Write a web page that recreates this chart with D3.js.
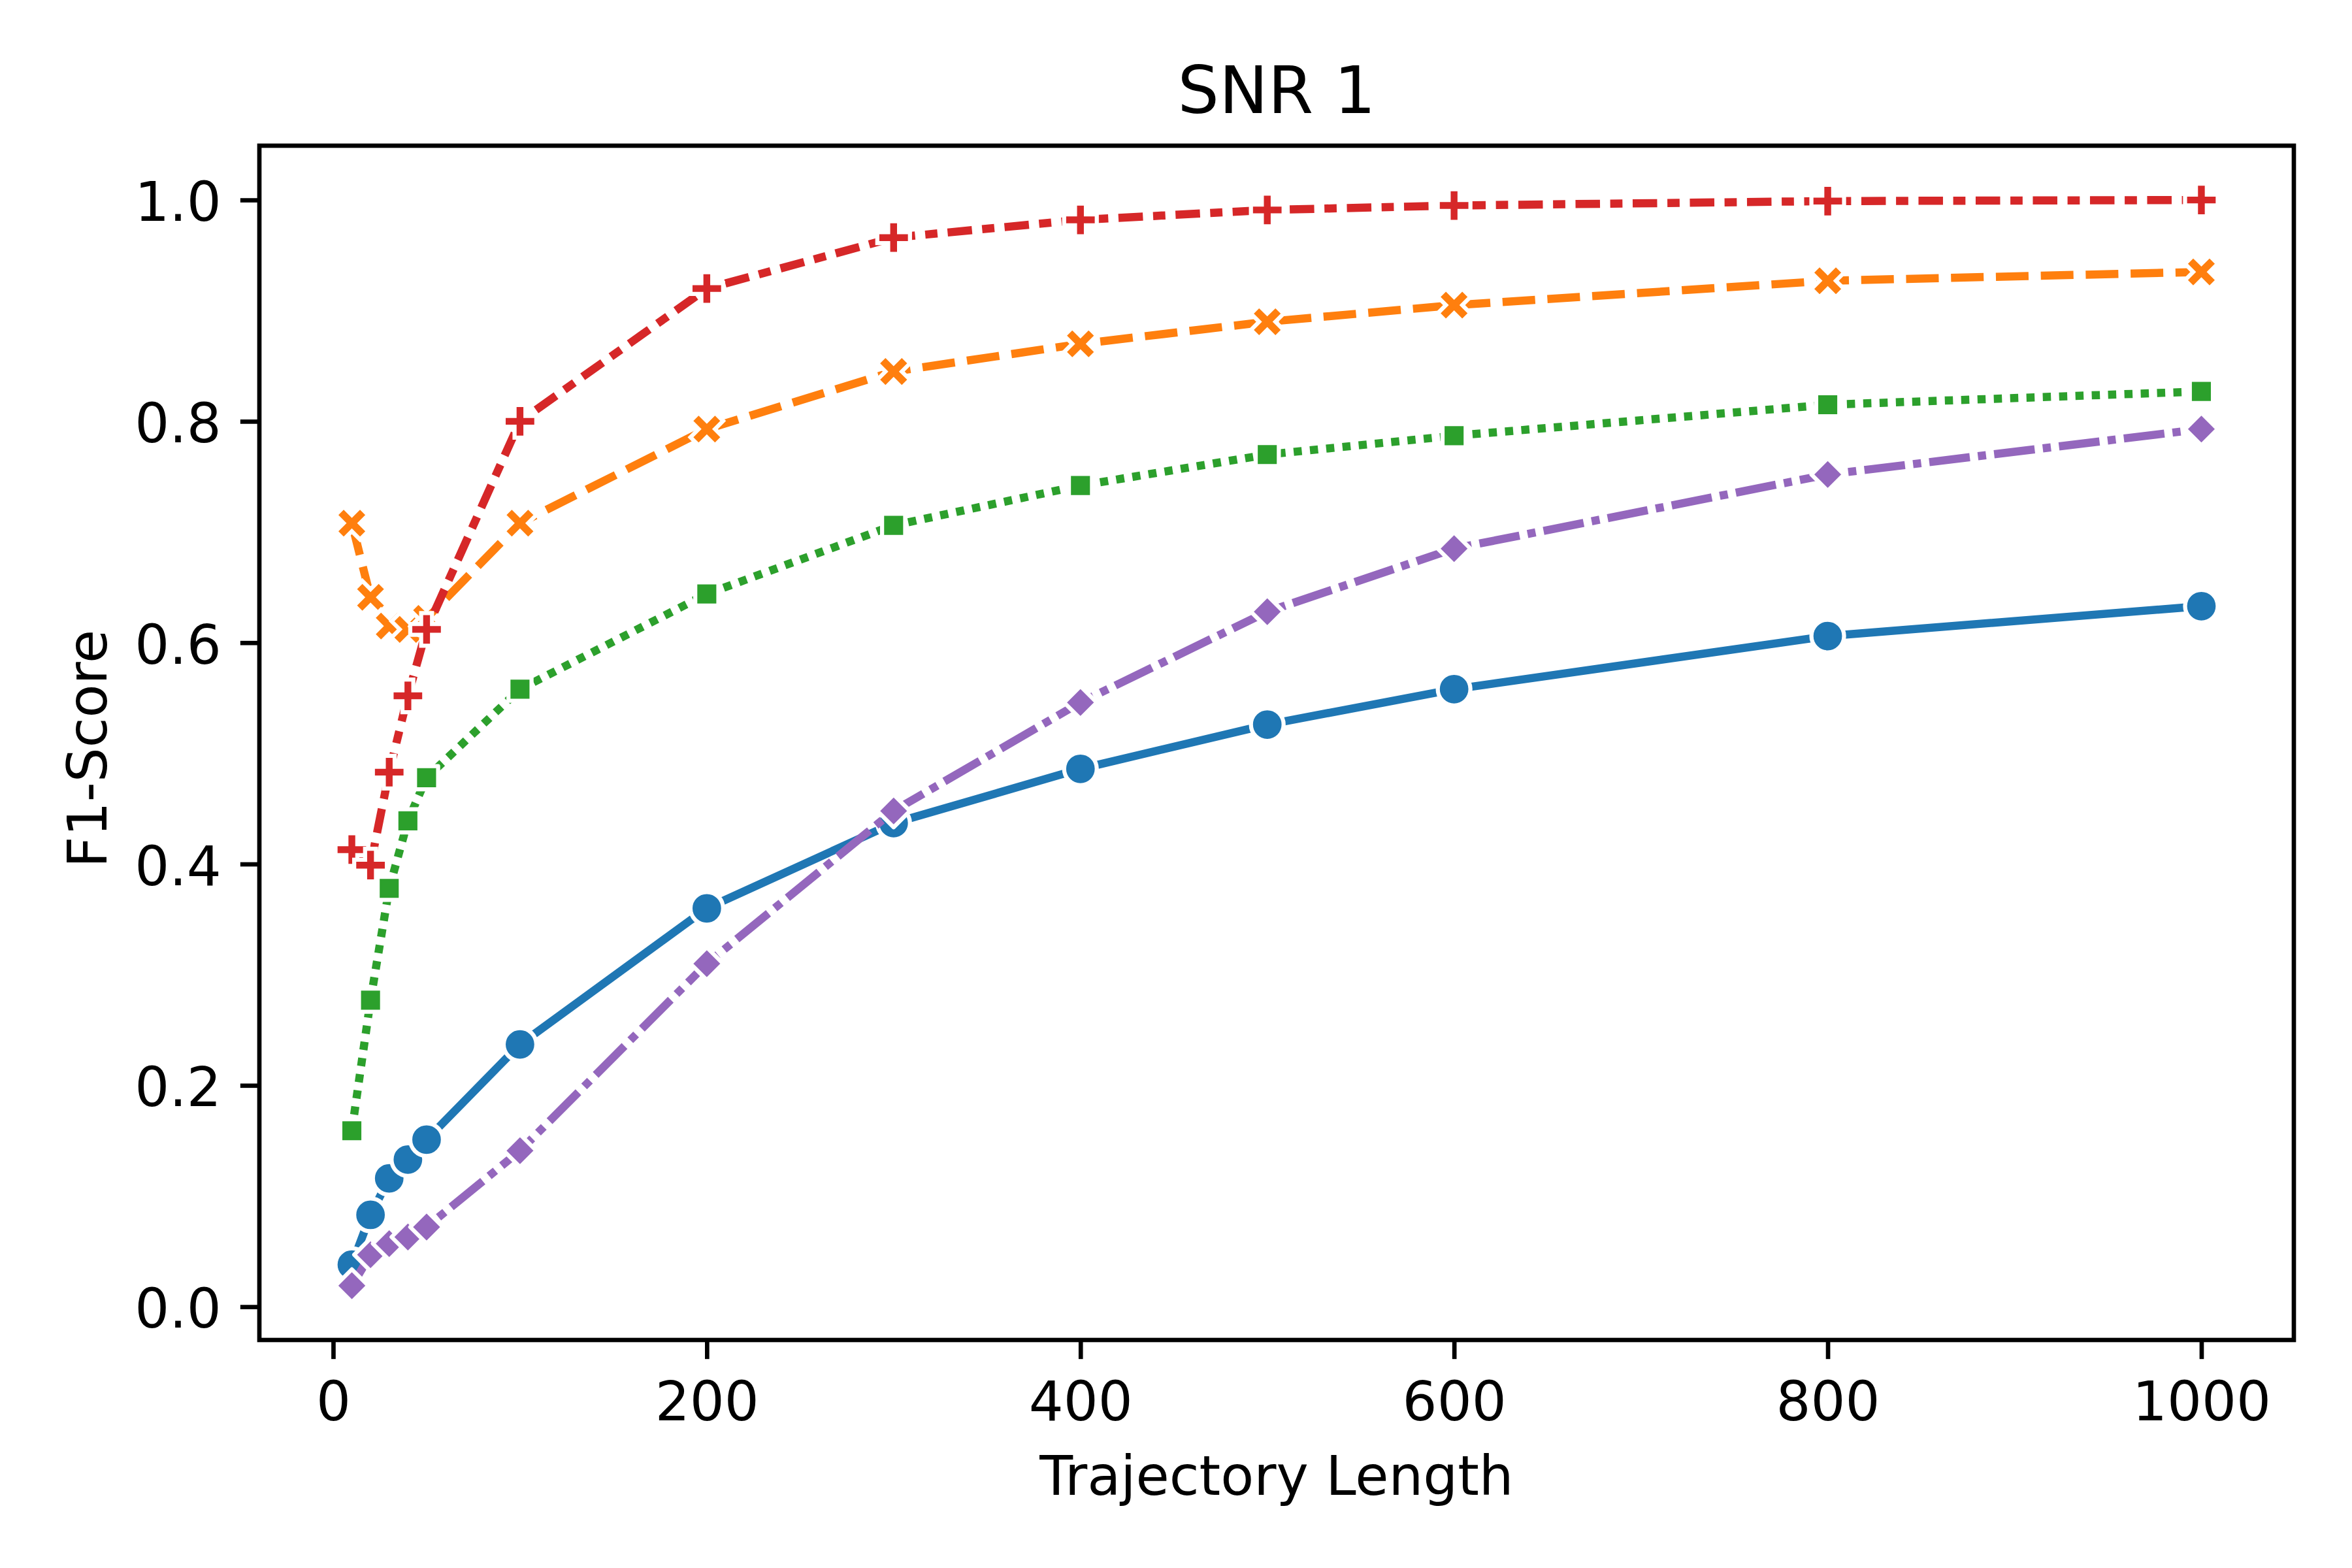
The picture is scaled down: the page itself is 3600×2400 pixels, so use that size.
<!DOCTYPE html>
<html>
<head>
<meta charset="utf-8">
<script src="https://cdn.jsdelivr.net/npm/d3@7"></script>
<style>
  html, body { margin: 0; padding: 0; background: #ffffff; }
  svg { display: block; }
  text { font-family: "DejaVu Sans", sans-serif; fill: #000; }
</style>
</head>
<body>
<svg id="chart" width="3600" height="2400"></svg>
<script>
// ---------------- data ----------------
const trajectoryLength = [10, 20, 30, 40, 50, 100, 200, 300, 400, 500, 600, 800, 1000];
const seriesBlue   = [0.038, 0.083, 0.116, 0.133, 0.151, 0.237, 0.360, 0.437, 0.486, 0.526, 0.558, 0.606, 0.633];
const seriesOrange = [0.708, 0.641, 0.615, 0.612, 0.622, 0.708, 0.793, 0.845, 0.870, 0.890, 0.905, 0.927, 0.935];
const seriesGreen  = [0.159, 0.277, 0.378, 0.439, 0.478, 0.558, 0.644, 0.706, 0.742, 0.770, 0.787, 0.815, 0.827];
const seriesRed    = [0.413, 0.399, 0.483, 0.552, 0.612, 0.800, 0.920, 0.966, 0.982, 0.991, 0.995, 0.999, 1.000];
const seriesPurple = [0.019, 0.047, 0.057, 0.063, 0.072, 0.141, 0.310, 0.448, 0.546, 0.628, 0.685, 0.752, 0.793];
const xTickValues = [0, 200, 400, 600, 800, 1000];
const yTickValues = [0.0, 0.2, 0.4, 0.6, 0.8, 1.0];
const titleText = "SNR 1";
const xLabelText = "Trajectory Length";
const yLabelText = "F1-Score";

// ---------------- styling ----------------
const DPI = 600, PT = DPI / 72;          // px per point
const LW = 1.5 * PT;                     // line width
const MS = 6 * PT;                       // marker size
const MEW = 0.75 * PT;                   // marker edge width
const SPINE = 0.8 * PT;
const TICK = 3.5 * PT;

const series = [
  { values: seriesBlue,   color: "#1f77b4", dash: null,                    marker: "o" },
  { values: seriesOrange, color: "#ff7f0e", dash: [4, 1.5],                marker: "X" },
  { values: seriesGreen,  color: "#2ca02c", dash: [1, 1],                  marker: "s" },
  { values: seriesRed,    color: "#d62728", dash: [3, 1.25, 1.5, 1.25],    marker: "P" },
  { values: seriesPurple, color: "#9467bd", dash: [5, 1, 1, 1],            marker: "D" }
];

const L = 397, R = 3511, T = 223, B = 2051;

const allY = series.flatMap(s => s.values);
const yMin = d3.min(allY), yMax = d3.max(allY);
const yPad = (yMax - yMin) * 0.05;
const xMin = d3.min(trajectoryLength), xMax = d3.max(trajectoryLength);
const xPad = (xMax - xMin) * 0.05;

const x = d3.scaleLinear().domain([xMin - xPad, xMax + xPad]).range([L, R]);
const y = d3.scaleLinear().domain([yMin - yPad, yMax + yPad]).range([B, T]);

const svg = d3.select("#chart");
svg.append("rect").attr("width", 3600).attr("height", 2400).attr("fill", "#fff");

svg.append("defs").append("clipPath").attr("id", "plotclip")
  .append("rect").attr("x", L).attr("y", T).attr("width", R - L).attr("height", B - T);

// marker path generators (centered at 0,0)
function markerPath(type) {
  const h = MS / 2;
  if (type === "o") {
    return d3.path().toString() || `M${h},0A${h},${h} 0 1,1 ${-h},0A${h},${h} 0 1,1 ${h},0Z`;
  }
  let pts;
  if (type === "X") {
    pts = [[-1,-2],[0,-1],[1,-2],[2,-1],[1,0],[2,1],[1,2],[0,1],[-1,2],[-2,1],[-1,0],[-2,-1]].map(p => [p[0]*MS/4, p[1]*MS/4]);
  } else if (type === "P") {
    pts = [[-1,-3],[1,-3],[1,-1],[3,-1],[3,1],[1,1],[1,3],[-1,3],[-1,1],[-3,1],[-3,-1],[-1,-1]].map(p => [p[0]*MS/6, p[1]*MS/6]);
  } else if (type === "s") {
    const a = h / Math.SQRT2;
    pts = [[-a,-a],[a,-a],[a,a],[-a,a]];
  } else if (type === "D") {
    pts = [[0,-h],[h,0],[0,h],[-h,0]];
  }
  return "M" + pts.map(p => p[0].toFixed(3) + "," + p[1].toFixed(3)).join("L") + "Z";
}
function circlePath() {
  const h = MS / 2;
  return `M${h},0A${h},${h} 0 1,1 ${-h},0A${h},${h} 0 1,1 ${h},0Z`;
}

const line = d3.line().x((d, i) => x(trajectoryLength[i])).y(d => y(d));

const plot = svg.append("g");
series.forEach(s => {
  const g = plot.append("g");
  const p = g.append("path")
    .attr("d", line(s.values))
    .attr("fill", "none")
    .attr("stroke", s.color)
    .attr("stroke-width", LW)
    .attr("stroke-linejoin", "round")
    .attr("clip-path", "url(#plotclip)");
  if (s.dash) {
    p.attr("stroke-dasharray", s.dash.map(v => v * LW).join(","))
     .attr("stroke-linecap", "butt");
  } else {
    p.attr("stroke-linecap", "square");
  }
  const mp = s.marker === "o" ? circlePath() : markerPath(s.marker);
  g.selectAll("path.mk").data(s.values).enter().append("path")
    .attr("class", "mk")
    .attr("d", mp)
    .attr("transform", (d, i) => `translate(${x(trajectoryLength[i])},${y(d)})`)
    .attr("fill", s.color)
    .attr("stroke", "#ffffff")
    .attr("stroke-width", MEW)
    .attr("stroke-linejoin", (s.marker === "P" || s.marker === "X") ? "miter" : "round");
});

// axes
const xAxis = d3.axisBottom(x).tickValues(xTickValues).tickFormat(d3.format("d"))
  .tickSize(TICK).tickSizeOuter(0).tickPadding(35);
const gx = svg.append("g").attr("transform", `translate(0,${B})`).call(xAxis);
gx.select(".domain").remove();
gx.selectAll(".tick line").attr("stroke", "#000").attr("stroke-width", SPINE);
gx.selectAll(".tick text").attr("font-size", 10 * PT).attr("font-family", "DejaVu Sans").attr("fill", "#000");

const yAxis = d3.axisLeft(y).tickValues(yTickValues).tickFormat(d3.format(".1f"))
  .tickSize(TICK).tickSizeOuter(0).tickPadding(29);
const gy = svg.append("g").attr("transform", `translate(${L},0)`).call(yAxis);
gy.select(".domain").remove();
gy.selectAll(".tick line").attr("stroke", "#000").attr("stroke-width", SPINE);
gy.selectAll(".tick text").attr("font-size", 10 * PT).attr("font-family", "DejaVu Sans").attr("fill", "#000").attr("dy", "0.38em");

// spines
svg.append("rect")
  .attr("x", L).attr("y", T).attr("width", R - L).attr("height", B - T)
  .attr("fill", "none").attr("stroke", "#000").attr("stroke-width", SPINE)
  .attr("stroke-linejoin", "miter");

// labels
svg.append("text").attr("x", (L + R) / 2).attr("y", 173)
  .attr("text-anchor", "middle").attr("font-size", 12 * PT).text(titleText);
svg.append("text").attr("x", (L + R) / 2).attr("y", 2288)
  .attr("text-anchor", "middle").attr("font-size", 10 * PT).text(xLabelText);
svg.append("text").attr("transform", `translate(163,1146) rotate(-90)`)
  .attr("text-anchor", "middle").attr("font-size", 10 * PT).text(yLabelText);
</script>
</body>
</html>
